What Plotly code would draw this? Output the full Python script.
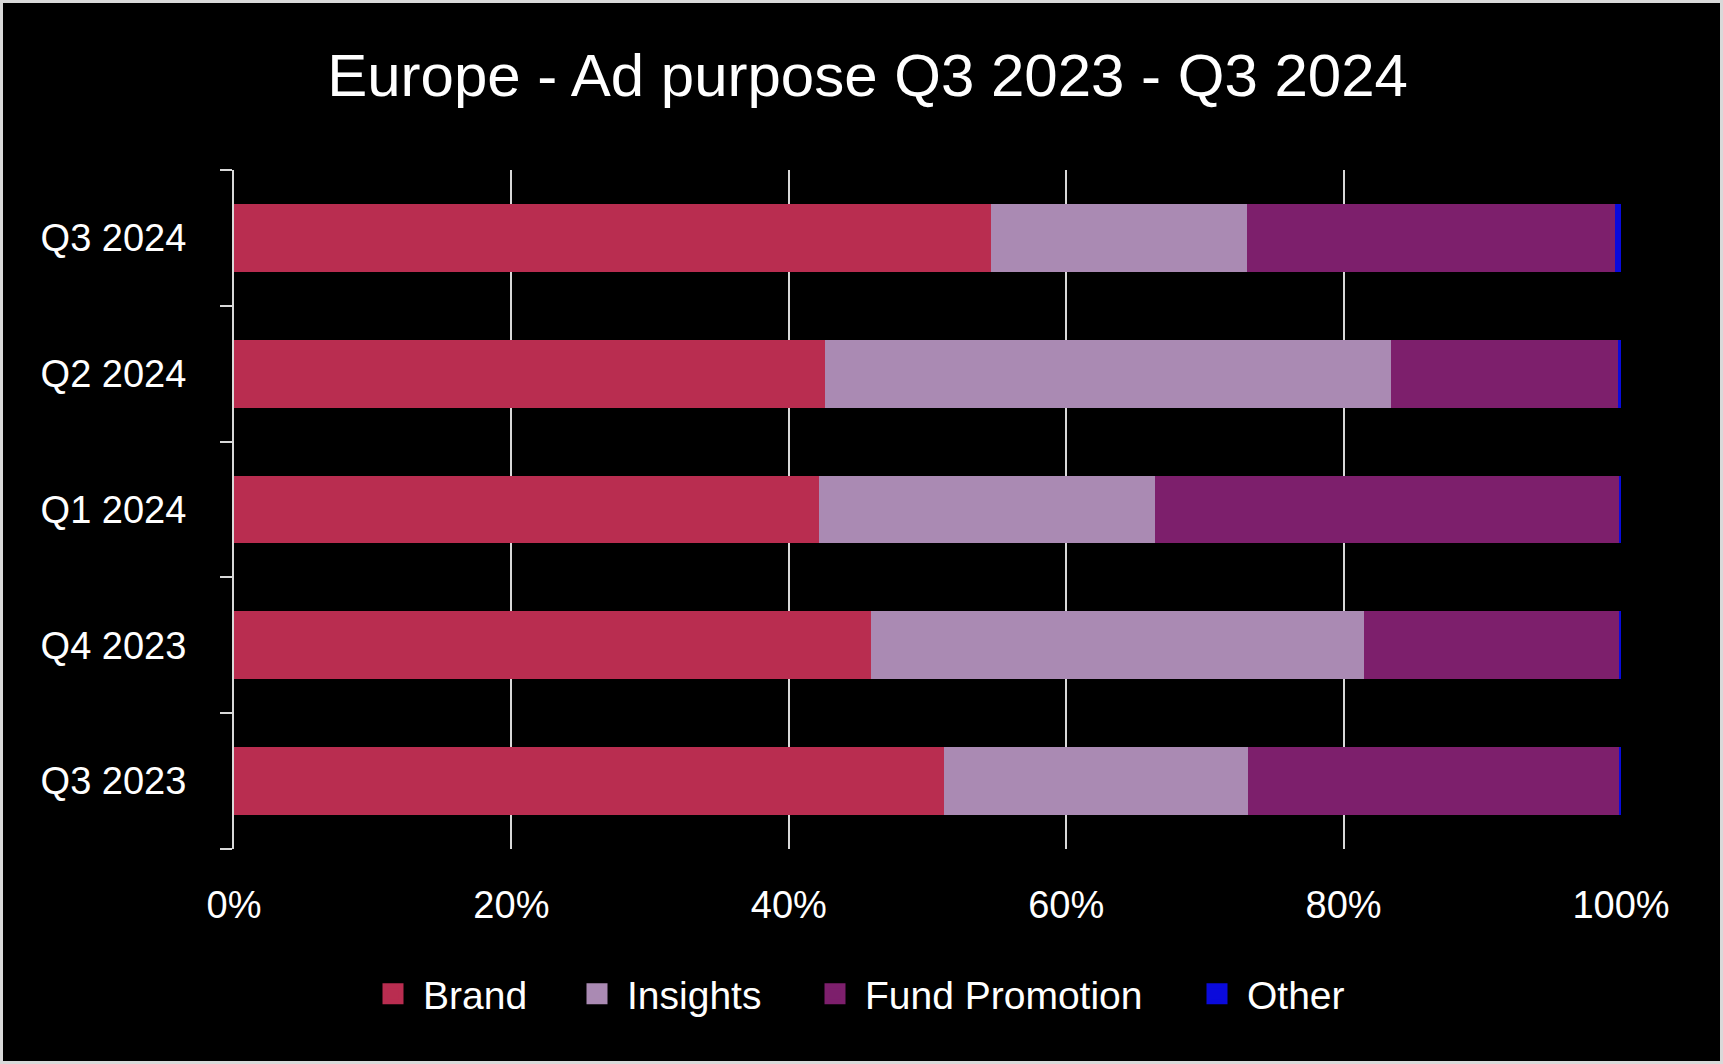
import plotly.graph_objects as go

quarters = ["Q3 2023", "Q4 2023", "Q1 2024", "Q2 2024", "Q3 2024"]
brand = [51.2, 45.9, 42.2, 42.6, 54.6]
insights = [21.9, 35.6, 24.2, 40.8, 18.4]
fund_promotion = [26.75, 18.4, 33.45, 16.35, 26.6]
other = [0.15, 0.1, 0.15, 0.25, 0.4]
x_ticks = [0, 20, 40, 60, 80, 100]
x_tick_labels = ["0%", "20%", "40%", "60%", "80%", "100%"]

series_names = ["Brand", "Insights", "Fund Promotion", "Other"]
series_values = [brand, insights, fund_promotion, other]
series_colors = ["#B92D50", "#AA8AB3", "#7D1F6C", "#0A0ADC"]

FONT = "Liberation Sans"
W, H = 1723, 1064
L, R, T, B = 234, 102, 170, 215

fig = go.Figure()
for name, vals, color in zip(series_names, series_values, series_colors):
    fig.add_trace(go.Bar(y=quarters, x=vals, name=name, orientation="h",
                         showlegend=False,
                         marker=dict(color=color, line=dict(width=0))))

# legend entries (one legend per entry so spacing can follow the original)
legend_centers = [393, 597, 835, 1217]  # swatch centres in px
legend_ids = ["legend", "legend2", "legend3", "legend4"]
for name, color, lid in zip(series_names, series_colors, legend_ids):
    fig.add_trace(go.Scatter(x=[None], y=[None], mode="markers", name=name,
                             legend=lid, showlegend=True,
                             marker=dict(symbol="square", size=16, color=color,
                                         line=dict(color=color, width=5))))

pw = W - L - R
ph = H - T - B
legend_style = dict(orientation="h", xanchor="left", xref="container",
                    yref="container", yanchor="middle", y=(H - 994) / H,
                    font=dict(size=39, family=FONT, color="white"),
                    itemwidth=50, bgcolor="rgba(0,0,0,0)", borderwidth=0)
layout_legends = {}
for lid, cx in zip(legend_ids, legend_centers):
    layout_legends[lid] = dict(legend_style, x=(cx - 30) / W)

fig.update_layout(
    width=W, height=H,
    barmode="stack", bargap=0.5,
    paper_bgcolor="black", plot_bgcolor="black",
    margin=dict(l=L, r=R, t=T, b=B),
    font=dict(family=FONT, color="white", size=38),
    title=dict(text="Europe - Ad purpose Q3 2023 - Q3 2024", x=867.6 / W,
               xref="container", xanchor="center", y=1 - 75 / H,
               yanchor="middle",
               font=dict(size=60, family=FONT, color="white")),
    xaxis=dict(range=[0, 100], tickvals=x_ticks, ticktext=x_tick_labels,
               showgrid=True, gridcolor="#D9D9D9", gridwidth=2,
               zeroline=False, showline=False, ticks="",
               ticklabelstandoff=30, tickfont=dict(size=38)),
    yaxis=dict(showline=True, linecolor="#D9D9D9", linewidth=2,
               ticks="outside", tickson="boundaries", ticklen=12,
               tickcolor="#D9D9D9", tickwidth=2,
               showgrid=False, ticklabelstandoff=38, tickfont=dict(size=38)),
    shapes=[dict(type="rect", xref="paper", yref="paper",
                 x0=-(L - 1.5) / pw, x1=1 + (R - 1.5) / pw,
                 y0=-(B - 1.5) / ph, y1=1 + (T - 1.5) / ph,
                 line=dict(color="#D9D9D9", width=3), layer="above")],
    **layout_legends,
)

fig.write_html("out.html", config={"displayModeBar": False},
               post_script="document.body.style.margin='0px';")
